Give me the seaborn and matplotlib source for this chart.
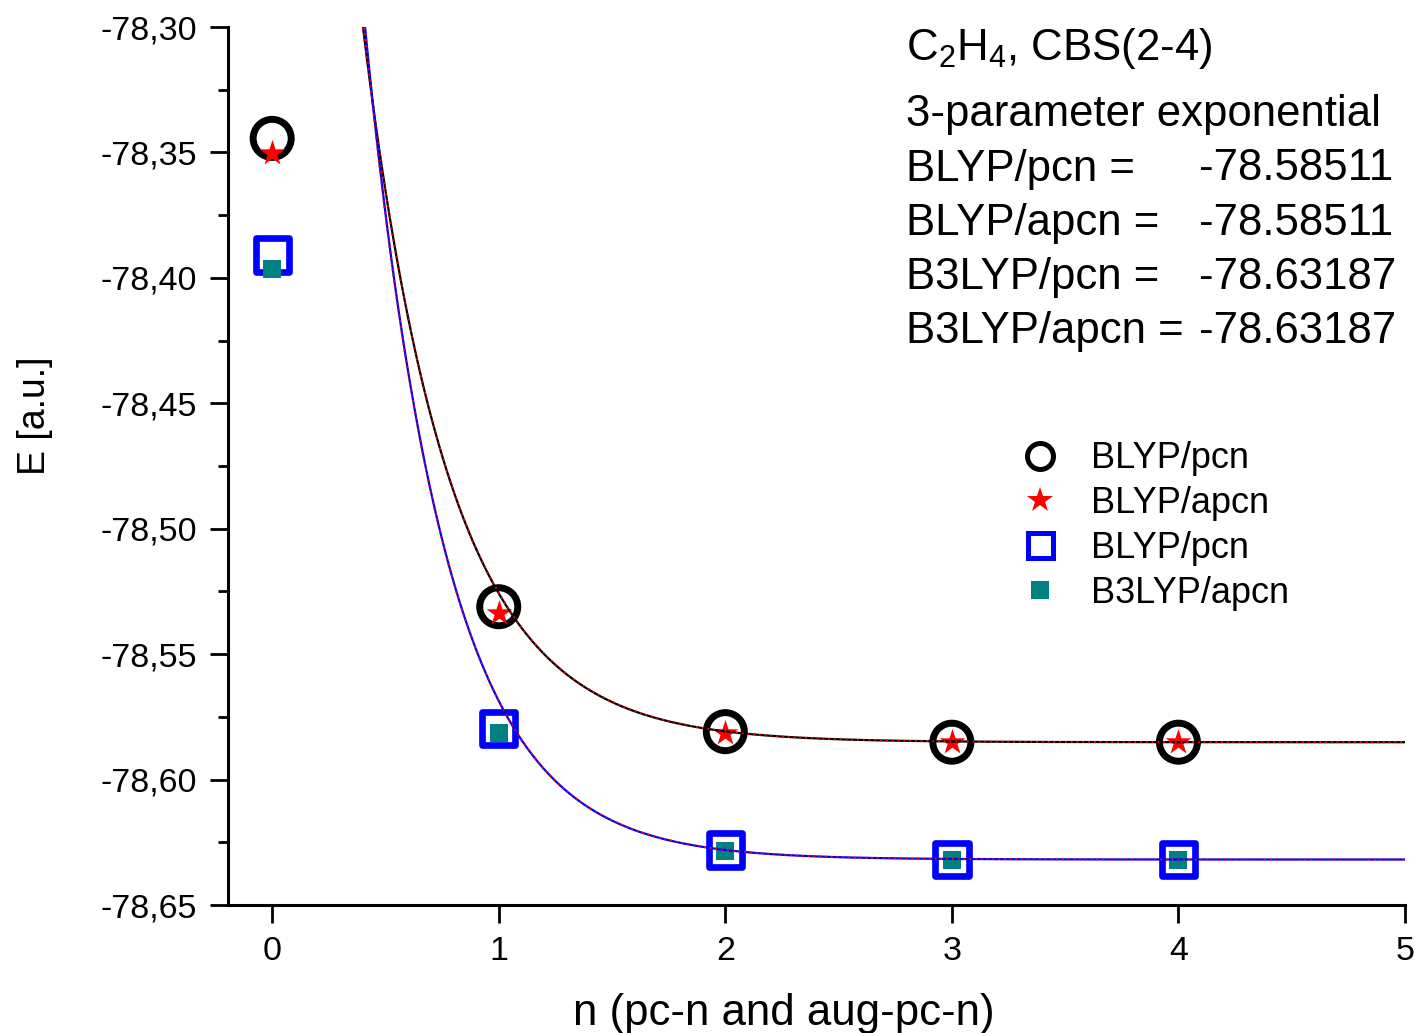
import numpy as np
import pandas as pd
import matplotlib
matplotlib.use("Agg")
import matplotlib.pyplot as plt
from matplotlib.lines import Line2D
from matplotlib.ticker import MultipleLocator, FuncFormatter
import seaborn as sns

# ---------------- data ----------------
n_vals = [0, 1, 2, 3, 4]
blyp_pcn = [-78.3444, -78.5311, -78.5809, -78.5851, -78.5851]
blyp_apcn = [-78.3503, -78.5337, -78.5816, -78.5849, -78.5849]
b3lyp_pcn = [-78.3909, -78.5796, -78.6281, -78.6318, -78.6318]
b3lyp_apcn = [-78.3966, -78.5816, -78.6283, -78.6321, -78.6321]

legend_labels = ["BLYP/pcn", "BLYP/apcn", "BLYP/pcn", "B3LYP/apcn"]

# 3-parameter exponential fits  E(n) = E_cbs + A*exp(-B*n)
fit_names = ["BLYP/pcn", "BLYP/apcn", "B3LYP/pcn", "B3LYP/apcn"]
fit_cbs = [-78.58511, -78.58511, -78.63187, -78.63187]
fit_A = [0.815, 0.810, 1.050, 1.040]
fit_B = [2.62, 2.61, 2.81, 2.80]

title_line = r"C$_2$H$_4$, CBS(2-4)"
subtitle_line = "3-parameter exponential"
result_labels = ["BLYP/pcn =", "BLYP/apcn =", "B3LYP/pcn =", "B3LYP/apcn ="]
result_values = [-78.58511, -78.58511, -78.63187, -78.63187]

x_ticks = [0, 1, 2, 3, 4, 5]
y_ticks = [-78.65, -78.60, -78.55, -78.50, -78.45, -78.40, -78.35, -78.30]

# ---------------- style ----------------
sns.set_theme(style="ticks")
plt.rcParams["font.family"] = ["Liberation Sans", "DejaVu Sans"]
plt.rcParams["mathtext.fontset"] = "custom"
plt.rcParams["mathtext.rm"] = "Liberation Sans"
plt.rcParams["mathtext.default"] = "regular"
plt.rcParams["text.color"] = "black"
plt.rcParams["axes.labelcolor"] = "black"
plt.rcParams["xtick.color"] = "black"
plt.rcParams["ytick.color"] = "black"

W, H = 1416, 1033
fig = plt.figure(figsize=(W / 100, H / 100), dpi=100)
fig.patch.set_facecolor("white")
ax = fig.add_axes([228 / W, (H - 905) / H, 1177 / W, 878 / H])
ax.set_facecolor("white")

# ---------------- fit curves ----------------
xs = np.linspace(0.0, 5.0, 600)
curve_styles = [
    dict(color="black", lw=1.6, ls="-"),
    dict(color="red", lw=1.3, ls=(0, (1, 2.2))),
    dict(color="blue", lw=1.6, ls="-"),
    dict(color="red", lw=1.3, ls=(0, (1, 2.2))),
]
for name, e0, a, b, st in zip(fit_names, fit_cbs, fit_A, fit_B, curve_styles):
    ys = e0 + a * np.exp(-b * xs)
    sns.lineplot(x=xs, y=ys, ax=ax, color=st["color"], linewidth=st["lw"],
                 linestyle=st["ls"], zorder=5, legend=False)

# ---------------- markers ----------------
df = pd.DataFrame({"n": n_vals, "blyp_pcn": blyp_pcn, "blyp_apcn": blyp_apcn,
                   "b3lyp_pcn": b3lyp_pcn, "b3lyp_apcn": b3lyp_apcn})

def hollow(col, marker, size, color, lw):
    sns.scatterplot(data=df, x="n", y=col, marker=marker, s=size ** 2, ax=ax,
                    legend=False, zorder=3)
    c = ax.collections[-1]
    c.set_facecolor("none")
    c.set_edgecolor(color)
    c.set_linewidth(lw)
    c.set_clip_on(False)

def filled(col, marker, size, color):
    sns.scatterplot(data=df, x="n", y=col, marker=marker, s=size ** 2, ax=ax,
                    legend=False, zorder=4, color=color, linewidth=0)
    ax.collections[-1].set_clip_on(False)

hollow("blyp_pcn", "o", 27.4, "black", 5.0)
filled("blyp_apcn", "*", 19.5, "red")
hollow("b3lyp_pcn", "s", 24.0, "blue", 4.8)
filled("b3lyp_apcn", "s", 12.7, "#008080")

# ---------------- axes ----------------
ax.set_xlim(-0.195, 5.0)
ax.set_ylim(-78.65, -78.30)
ax.set_xticks(x_ticks)
ax.set_yticks(y_ticks)
ax.yaxis.set_minor_locator(MultipleLocator(0.025))
ax.yaxis.set_major_formatter(FuncFormatter(lambda v, p: f"{v:.2f}".replace(".", ",")))
ax.xaxis.set_major_formatter(FuncFormatter(lambda v, p: f"{v:.0f}"))
for s in ["top", "right"]:
    ax.spines[s].set_visible(False)
for s in ["left", "bottom"]:
    ax.spines[s].set_linewidth(2.2)
    ax.spines[s].set_color("black")
ax.tick_params(axis="both", which="major", direction="out", length=13, width=2,
               labelsize=24.5, colors="black", pad=9)
ax.tick_params(axis="y", which="minor", direction="out", length=7.5, width=2,
               colors="black")
ax.tick_params(axis="x", which="minor", length=0)

ax.set_xlabel("n (pc-n and aug-pc-n)", fontsize=31.5, color="black")
ax.set_ylabel("E [a.u.]", fontsize=27, color="black")
ax.xaxis.set_label_coords(0.4724, -0.100)
ax.yaxis.set_label_coords(-0.1487, 0.557)

# ---------------- annotation text ----------------
fs_ann = 31.5
fig.text(906 / W, 1 - 60 / H, title_line, fontsize=fs_ann, va="baseline", ha="left",
         color="black")
fig.text(906 / W, 1 - 126 / H, subtitle_line, fontsize=fs_ann, va="baseline", ha="left",
         color="black")
for i, (lab, val) in enumerate(zip(result_labels, result_values)):
    base = 180.5 + 54.2 * i
    fig.text(906 / W, 1 - base / H, lab, fontsize=fs_ann, va="baseline", ha="left",
             color="black")
    fig.text(1199 / W, 1 - base / H, f"{val:.5f}", fontsize=fs_ann, va="baseline",
             ha="left", color="black")

# ---------------- legend ----------------
handles = [
    Line2D([], [], ls="none", marker="o", markersize=18.7, markerfacecolor="none",
           markeredgecolor="black", markeredgewidth=3.6),
    Line2D([], [], ls="none", marker="*", markersize=19, markerfacecolor="red",
           markeredgewidth=0),
    Line2D([], [], ls="none", marker="s", markersize=18, markerfacecolor="none",
           markeredgecolor="blue", markeredgewidth=3.6),
    Line2D([], [], ls="none", marker="s", markersize=13, markerfacecolor="#008080",
           markeredgewidth=0),
]
leg = fig.legend(handles, legend_labels, loc="center left",
                 bbox_to_anchor=(1022 / W, 1 - 526 / H), frameon=False,
                 fontsize=26, handlelength=1.0, handletextpad=0.9,
                 labelspacing=0.27, borderpad=0, borderaxespad=0)
for t in leg.get_texts():
    t.set_color("black")

fig.savefig("out.png", dpi=100, facecolor="white")
